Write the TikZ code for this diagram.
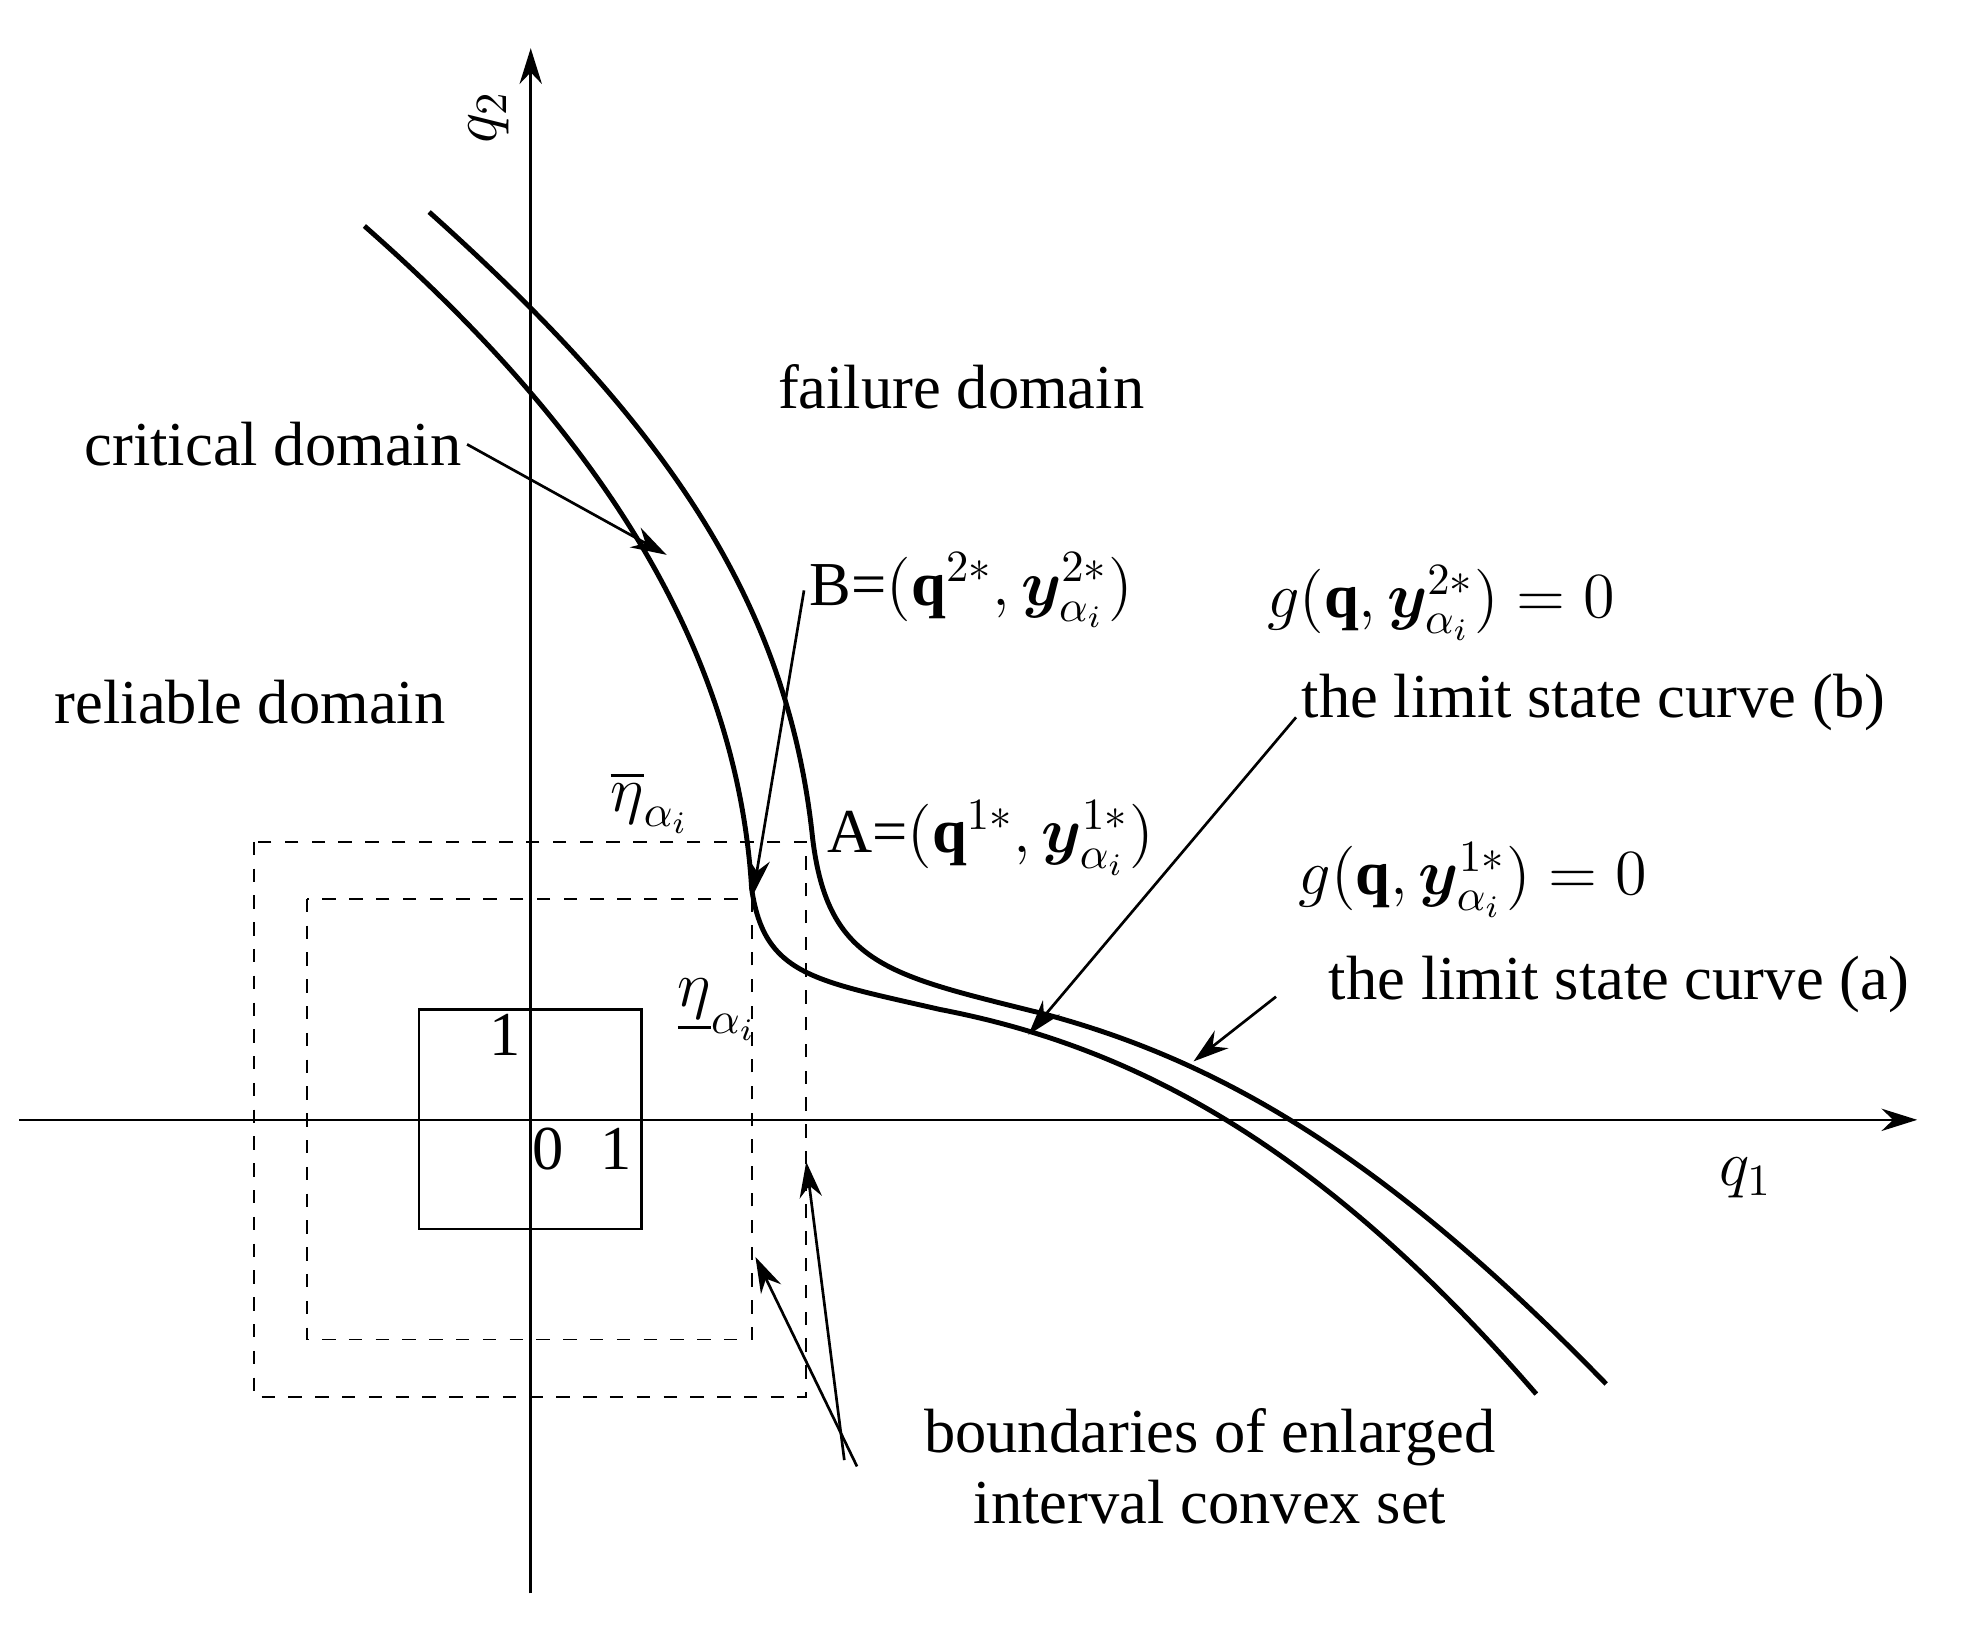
\documentclass[tikz,border=0pt]{standalone}
\usepackage{amsmath,amssymb}
\usepackage{bm}
\usepackage{fontspec}
\setmainfont{Liberation Serif}
\usetikzlibrary{arrows.meta}

\begin{document}
\begin{tikzpicture}[x=0.01cm,y=-0.01cm,>={Stealth[length=8pt,width=5pt]},semithick,
    lbl/.style={font=\fontsize{14}{16}\selectfont,inner sep=1pt},
    curve/.style={line width=1.1pt},
    box/.style={dashed,thin}]
        \useasboundingbox (0,0) rectangle (1550,1286);
        % axes
        \coordinate (o) at (418,882);
        \coordinate (ytop) at (418,38);
        \coordinate (ybot) at (418,1255);
        \coordinate (xl) at (15,882);
        \coordinate (xr) at (1510,882);
        \draw[->] (ybot) -- (ytop);
        \draw[->] (xl) -- (xr);
        \node[lbl,rotate=90] (q2) at (385,92) {$q_2$};
        \node[lbl] (q1) at (1375,928) {$q_1$};

        % unit box and enlarged boxes
        \draw (330,795) rectangle (505,968);
        \draw[box] (200,663) rectangle (635,1100);
        \draw[box] (242,708) rectangle (592,1055);
        \node[lbl] (one1) at (398,815) {1};
        \node[lbl] (zero) at (432,905) {0};
        \node[lbl] (one2) at (485,905) {1};

        % limit state curves
        \draw[curve] (338,167) .. controls (520,330) and (620,470) .. (640,660)
              .. controls (652,760) and (700,768) .. (820,798)
              .. controls (960,835) and (1090,910) .. (1265,1090);
        \draw[curve] (287,178) .. controls (460,330) and (580,500) .. (592,700)
              .. controls (602,768) and (640,772) .. (740,795)
              .. controls (880,822) and (1030,890) .. (1210,1098);

        % labels
        \node[lbl] (fail) at (757,305) {failure domain};
        \node[lbl] (crit) at (215,350) {critical domain};
        \node[lbl] (rel) at (197,553) {reliable domain};
        \node[lbl] (B) at (765,465) {B=$(\mathbf{q}^{2*},\bm{y}^{2*}_{\alpha_i})$};
        \node[lbl] (A) at (780,660) {A=$(\mathbf{q}^{1*},\bm{y}^{1*}_{\alpha_i})$};
        \node[lbl] (etaup) at (512,632) {$\overline{\eta}_{\alpha_i}$};
        \node[lbl] (etalo) at (565,795) {$\underline{\eta}_{\alpha_i}$};
        \node[lbl] (gb) at (1135,475) {$g(\mathbf{q},\bm{y}^{2*}_{\alpha_i})=0$};
        \node[lbl] (cb) at (1255,553) {the limit state curve (b)};
        \node[lbl] (ga) at (1160,693) {$g(\mathbf{q},\bm{y}^{1*}_{\alpha_i})=0$};
        \node[lbl] (ca) at (1275,775) {the limit state curve (a)};
        \node[lbl,align=center] (bnd) at (953,1155) {boundaries of enlarged\\interval convex set};

        % pointers
        \coordinate (critT) at (525,437);
        \coordinate (bT) at (593,705);
        \coordinate (cbT) at (810,815);
        \coordinate (caT) at (940,836);
        \coordinate (in1) at (595,990);
        \coordinate (in2) at (635,915);
        \draw[->] (crit.east) -- (critT);
        \draw[->] (B.west) -- (bT);
        \draw[->] (cb.west |- 0,565) -- (cbT);
        \draw[->] (1005,785) -- (caT);
        \draw[->] (675,1155) -- (in1);
        \draw[->] (665,1150) -- (in2);
    \end{tikzpicture}
\end{document}
